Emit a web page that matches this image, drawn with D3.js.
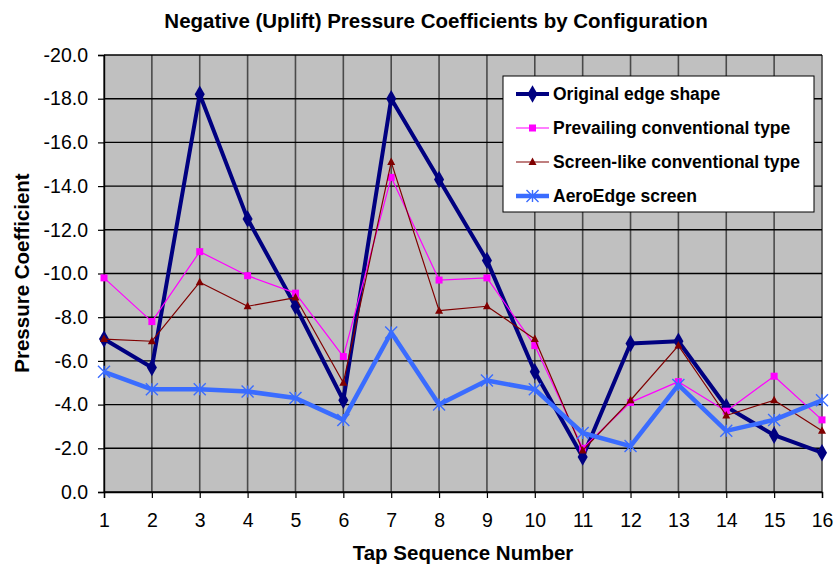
<!DOCTYPE html>
<html>
<head>
<meta charset="utf-8">
<script src="https://cdn.jsdelivr.net/npm/d3@7"></script>
<style>
  body { margin: 0; background: #fff; }
  text { font-family: "Liberation Sans", Arial, sans-serif; }
</style>
</head>
<body>
<script>
// tap numbers along the x axis
let taps = [1, 2, 3, 4, 5, 6, 7, 8, 9, 10, 11, 12, 13, 14, 15, 16];

// pressure coefficients
let originalEdge = [-7.0, -5.7, -18.2, -12.5, -8.5, -4.2, -18.0, -14.3, -10.6, -5.5, -1.6, -6.8, -6.9, -3.9, -2.6, -1.8];
let prevailing   = [-9.8, -7.8, -11.0, -9.9, -9.1, -6.2, -14.4, -9.7, -9.8, -6.7, -2.0, -4.1, -5.05, -3.7, -5.3, -3.3];
let screenLike   = [-7.0, -6.9, -9.6, -8.5, -8.9, -5.0, -15.1, -8.3, -8.5, -7.0, -1.9, -4.2, -6.7, -3.5, -4.2, -2.8];
let aeroEdge     = [-5.5, -4.7, -4.7, -4.6, -4.3, -3.3, -7.3, -4.0, -5.1, -4.7, -2.7, -2.1, -4.9, -2.8, -3.3, -4.2];

let seriesNames = ["Original edge shape", "Prevailing conventional type", "Screen-like conventional type", "AeroEdge screen"];
let yTicks = [0, -2, -4, -6, -8, -10, -12, -14, -16, -18, -20];

let series = [
  {name: seriesNames[0], values: originalEdge, color: "#000080", width: 4, marker: "diamond"},
  {name: seriesNames[1], values: prevailing, color: "#ff00ff", width: 1.2, marker: "square"},
  {name: seriesNames[2], values: screenLike, color: "#800000", width: 1.2, marker: "triangle"},
  {name: seriesNames[3], values: aeroEdge, color: "#3a6cff", width: 4.5, marker: "star"}
];

let margin = {top: 55, right: 14, bottom: 74, left: 104},
    W = 836, H = 566,
    width = W - margin.left - margin.right,
    height = H - margin.top - margin.bottom;

let svg = d3.select("body").append("svg")
  .attr("width", W)
  .attr("height", H);

let g = svg.append("g")
  .attr("transform", "translate(" + margin.left + "," + margin.top + ")");

let x = d3.scaleLinear().domain([1, 16]).range([0, width]);
let y = d3.scaleLinear().domain([0, -20]).range([height, 0]);

// plot background
g.append("rect")
  .attr("width", width).attr("height", height)
  .attr("fill", "#c0c0c0");

// vertical grid
g.append("g").selectAll("line").data(taps).join("line")
  .attr("x1", d => x(d)).attr("x2", d => x(d))
  .attr("y1", 0).attr("y2", height)
  .attr("stroke", "#4a4a4a").attr("stroke-width", 1.6);

// horizontal grid
g.append("g").selectAll("line").data(yTicks).join("line")
  .attr("x1", 0).attr("x2", width)
  .attr("y1", d => y(d)).attr("y2", d => y(d))
  .attr("stroke", "#000").attr("stroke-width", 1.4);

// axes
let xAxis = d3.axisBottom(x).tickValues(taps).tickSize(6).tickPadding(15).tickFormat(d3.format("d"));
let yAxis = d3.axisLeft(y).tickValues(yTicks).tickSize(6).tickPadding(10).tickFormat(d => d.toFixed(1));

let xAxisEl = g.append("g").attr("transform", "translate(0," + height + ")").call(xAxis);
let yAxisEl = g.append("g").call(yAxis);

[xAxisEl, yAxisEl].forEach(function(a) {
  a.select(".domain").attr("stroke", "#000").attr("stroke-width", 1.4);
  a.selectAll(".tick line").attr("stroke", "#000").attr("stroke-width", 1.2);
  a.selectAll(".tick text").attr("fill", "#000").style("font-size", "19.5px");
});

// axis titles
svg.append("text")
  .attr("x", 463).attr("y", 560)
  .attr("text-anchor", "middle")
  .style("font-size", "20.5px").style("font-weight", "bold")
  .text("Tap Sequence Number");

svg.append("text")
  .attr("transform", "translate(29,273) rotate(-90)")
  .attr("text-anchor", "middle")
  .style("font-size", "20.5px").style("font-weight", "bold")
  .text("Pressure Coefficient");

svg.append("text")
  .attr("x", 436).attr("y", 28)
  .attr("text-anchor", "middle")
  .style("font-size", "20.5px").style("font-weight", "bold")
  .text("Negative (Uplift) Pressure Coefficients by Configuration");

// marker drawing
function drawMarker(sel, s, size) {
  if (s.marker === "diamond") {
    sel.append("path").attr("d", d3.symbol(d3.symbolDiamond, size * 5.5)())
      .attr("fill", s.color);
  } else if (s.marker === "square") {
    sel.append("rect").attr("x", -3.5).attr("y", -3.5).attr("width", 7).attr("height", 7)
      .attr("fill", s.color);
  } else if (s.marker === "triangle") {
    sel.append("path").attr("d", "M0,-4.5L4,3L-4,3Z").attr("fill", s.color);
  } else {
    let r = 6;
    sel.append("path")
      .attr("d", "M" + (-r) + "," + (-r) + "L" + r + "," + r + "M" + (-r) + "," + r + "L" + r + "," + (-r) + "M0," + (-r) + "L0," + r)
      .attr("stroke", s.color).attr("stroke-width", 1.4).attr("fill", "none");
  }
}

let line = d3.line()
  .x((d, i) => x(taps[i]))
  .y(d => y(d));

series.forEach(function(s) {
  let sg = g.append("g");
  sg.append("path").datum(s.values)
    .attr("d", line)
    .attr("fill", "none")
    .attr("stroke", s.color)
    .attr("stroke-width", s.width)
    .attr("stroke-linejoin", "round");
  sg.selectAll("g.pt").data(s.values).join("g")
    .attr("class", "pt")
    .attr("transform", (d, i) => "translate(" + x(taps[i]) + "," + y(d) + ")")
    .each(function() { drawMarker(d3.select(this), s, 16); });
});

// legend
let legend = svg.append("g").attr("transform", "translate(503,76)");
legend.append("rect")
  .attr("width", 311).attr("height", 136)
  .attr("fill", "#fff").attr("stroke", "#000").attr("stroke-width", 1);

series.forEach(function(s, i) {
  let row = legend.append("g").attr("transform", "translate(0," + (18 + i * 34) + ")");
  row.append("line")
    .attr("x1", 13).attr("x2", 46)
    .attr("stroke", s.color).attr("stroke-width", s.width);
  let m = row.append("g").attr("transform", "translate(29.5,0)");
  drawMarker(m, s, 16);
  row.append("text")
    .attr("x", 50).attr("y", 6)
    .style("font-size", "17.5px").style("font-weight", "bold")
    .text(s.name);
});
</script>
</body>
</html>
